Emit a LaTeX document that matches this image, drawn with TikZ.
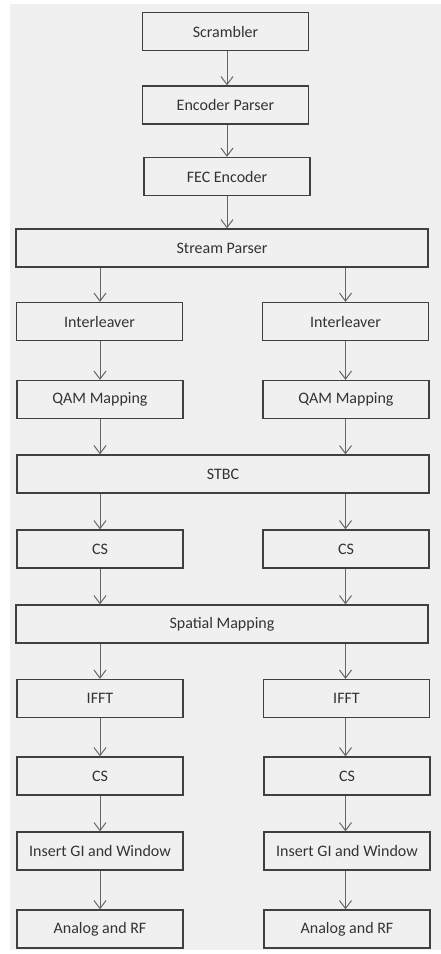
\documentclass[tikz,border=0pt]{standalone}
\usepackage{fontspec}
\setmainfont{Carlito}
\usetikzlibrary{arrows.meta,calc}
\definecolor{bg}{HTML}{F0F0F0}
\definecolor{boxline}{HTML}{404040}
\definecolor{arrline}{HTML}{666666}
\definecolor{txt}{HTML}{333333}
\tikzset{
  blk/.style={draw=boxline, line width=1.3pt, fill=bg, rectangle, minimum height=38pt, inner sep=0pt, text=txt, font=\fontsize{16}{18}\selectfont},
  narrow/.style={blk, minimum width=166pt},
  wide/.style={blk, minimum width=412pt},
  arr/.style={draw=arrline, line width=1pt, -{Straight Barb[length=8pt,width=12pt]}}
}
\begin{document}
\begin{tikzpicture}[x=1pt,y=-1pt]
\useasboundingbox (0,0) rectangle (441,954);
\fill[bg] (10,4) rectangle (441,950);
\node[narrow] (scr) at (225.5,31.5) {Scrambler};
\node[narrow] (enc) at (225.5,105) {Encoder Parser};
\node[narrow] (fec) at (227,176.5) {FEC Encoder};
\node[wide] (sp) at (222,248) {Stream Parser};
\node[narrow] (il1) at (99.5,321.5) {Interleaver};
\node[narrow] (il2) at (345.5,321.5) {Interleaver};
\node[narrow] (qam1) at (100,399.5) {QAM Mapping};
\node[narrow] (qam2) at (346,399.5) {QAM Mapping};
\node[wide] (stbc) at (223,474) {STBC};
\node[narrow] (csa1) at (100,549) {CS};
\node[narrow] (csa2) at (346,549) {CS};
\node[wide] (smap) at (222,624) {Spatial Mapping};
\node[narrow] (ifft1) at (100,698.5) {IFFT};
\node[narrow] (ifft2) at (346.5,698.5) {IFFT};
\node[narrow] (csb1) at (100,776) {CS};
\node[narrow] (csb2) at (347,776) {CS};
\node[narrow] (gi1) at (100,851) {Insert GI and Window};
\node[narrow] (gi2) at (347,851) {Insert GI and Window};
\node[narrow] (rf1) at (100,929) {Analog and RF};
\node[narrow] (rf2) at (347,929) {Analog and RF};
\coordinate (c) at (227,0);
\coordinate (l) at (100,0);
\coordinate (r) at (345.5,0);
\draw[arr] (scr.south -| c) -- (enc.north -| c);
\draw[arr] (enc.south -| c) -- (fec.north -| c);
\draw[arr] (fec.south -| c) -- (sp.north -| c);
\draw[arr] (sp.south -| l) -- (il1.north -| l);
\draw[arr] (sp.south -| r) -- (il2.north -| r);
\draw[arr] (il1.south -| l) -- (qam1.north -| l);
\draw[arr] (il2.south -| r) -- (qam2.north -| r);
\draw[arr] (qam1.south -| l) -- (stbc.north -| l);
\draw[arr] (qam2.south -| r) -- (stbc.north -| r);
\draw[arr] (stbc.south -| l) -- (csa1.north -| l);
\draw[arr] (stbc.south -| r) -- (csa2.north -| r);
\draw[arr] (csa1.south -| l) -- (smap.north -| l);
\draw[arr] (csa2.south -| r) -- (smap.north -| r);
\draw[arr] (smap.south -| l) -- (ifft1.north -| l);
\draw[arr] (smap.south -| r) -- (ifft2.north -| r);
\draw[arr] (ifft1.south -| l) -- (csb1.north -| l);
\draw[arr] (ifft2.south -| r) -- (csb2.north -| r);
\draw[arr] (csb1.south -| l) -- (gi1.north -| l);
\draw[arr] (csb2.south -| r) -- (gi2.north -| r);
\draw[arr] (gi1.south -| l) -- (rf1.north -| l);
\draw[arr] (gi2.south -| r) -- (rf2.north -| r);
\end{tikzpicture}
\end{document}
